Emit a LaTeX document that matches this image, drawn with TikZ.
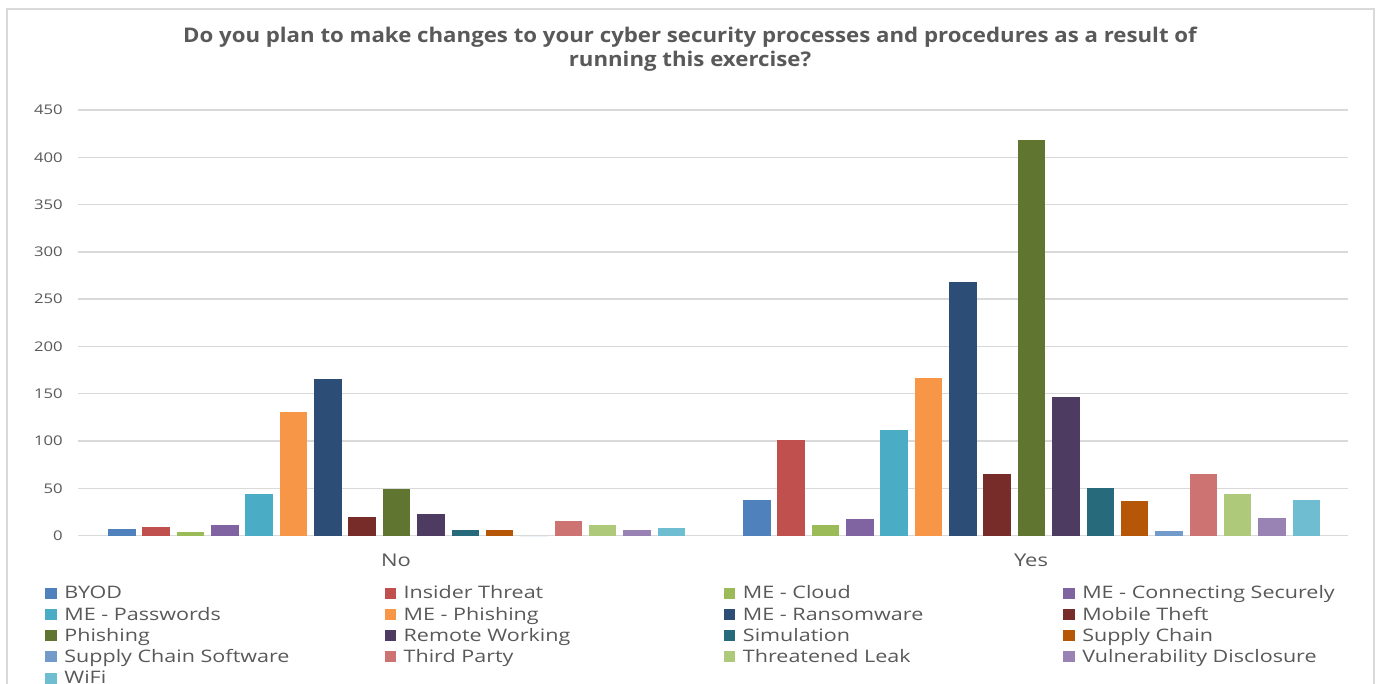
\documentclass[tikz,border=0pt]{standalone}
\usepackage{fontspec}
\setmainfont{Open Sans}
\newfontfamily\titlefont[FakeStretch=1.1]{Open Sans}
\newfontfamily\labelfont[FakeStretch=1.25]{Open Sans}
\usetikzlibrary{positioning}
\definecolor{byod}{HTML}{4F81BD}
\definecolor{insider}{HTML}{C0504D}
\definecolor{cloud}{HTML}{9BBB59}
\definecolor{connect}{HTML}{8064A2}
\definecolor{passw}{HTML}{4BACC6}
\definecolor{mephish}{HTML}{F79646}
\definecolor{ransom}{HTML}{2C4D75}
\definecolor{mobile}{HTML}{772C2A}
\definecolor{phish}{HTML}{5F7530}
\definecolor{remote}{HTML}{4D3B62}
\definecolor{simul}{HTML}{276A7C}
\definecolor{supply}{HTML}{B65708}
\definecolor{supplysw}{HTML}{729ACA}
\definecolor{third}{HTML}{CD7371}
\definecolor{leak}{HTML}{AFC97A}
\definecolor{vuln}{HTML}{9983B5}
\definecolor{wifi}{HTML}{6FBDD1}
\definecolor{txt}{HTML}{595959}
\definecolor{gridc}{HTML}{D9D9D9}

\begin{document}
\begin{tikzpicture}[x=0.02cm,y=-0.02cm,
    tick/.style={anchor=east,text=txt,inner sep=0pt,font=\labelfont\fontsize{7.6}{9}\selectfont},
    cat/.style={anchor=base,text=txt,inner sep=0pt,font=\labelfont\fontsize{10}{12}\selectfont},
    key/.style={anchor=base west,text=txt,inner sep=0pt,font=\labelfont\fontsize{9.8}{12}\selectfont},
    swatch/.style={minimum width=0.23cm,minimum height=0.22cm,inner sep=0pt},
    gline/.style={gridc,line width=0.8pt}]
    \useasboundingbox (0,0) rectangle (1379,683);
    \clip (0,0) rectangle (1379,683);
    \fill[white] (0,0) rectangle (1379,683);
    \draw[gline] (7,9) rectangle (1374,720);
    \node[text=txt,align=center,font=\titlefont\bfseries\fontsize{11.5}{13.6}\selectfont] (title) at (690,49)
        {Do you plan to make changes to your cyber security processes and procedures as a result of\\running this exercise?};
    \foreach \v in {0,50,...,450}{
        \draw[gline] (78,{535.5-\v*0.9456}) -- (1348,{535.5-\v*0.9456});
        \node[tick] (t\v) at (63,{535.5-\v*0.9456}) {\v};
    }
    \foreach \c/\a/\b [count=\i from 0] in {byod/7/38,insider/9/101,cloud/4/11,connect/11/17,
        passw/44/112,mephish/131/167,ransom/165/268,mobile/20/65,phish/49/418,remote/23/147,
        simul/6/50,supply/6/36,supplysw/0/5,third/15/65,leak/11/44,vuln/6/19,wifi/8/38}{
        \fill[\c] ({108+34.35*\i},535.5) rectangle +(27.5,{-\a*0.9456});
        \fill[\c] ({743+34.35*\i},535.5) rectangle +(27.5,{-\b*0.9456});
    }
    \node[cat] (no) at (396,566) {No};
    \node[cat] (yes) at (1031,566) {Yes};
    \foreach \c/\t [count=\i from 0] in {byod/BYOD,insider/Insider Threat,cloud/ME - Cloud,
        connect/ME - Connecting Securely,passw/ME - Passwords,mephish/ME - Phishing,
        ransom/ME - Ransomware,mobile/Mobile Theft,phish/Phishing,remote/Remote Working,
        simul/Simulation,supply/Supply Chain,supplysw/Supply Chain Software,third/Third Party,
        leak/Threatened Leak,vuln/Vulnerability Disclosure,wifi/WiFi}{
        \pgfmathtruncatemacro\col{mod(\i,4)}
        \pgfmathtruncatemacro\row{div(\i,4)}
        \node[key] (l\i) at ({64+339.3*\col},{598.7+21.3*\row}) {\t};
        \node[swatch,fill=\c] (k\i) at ({51+339.3*\col},{593+21.3*\row}) {};
    }
\end{tikzpicture}
\end{document}
